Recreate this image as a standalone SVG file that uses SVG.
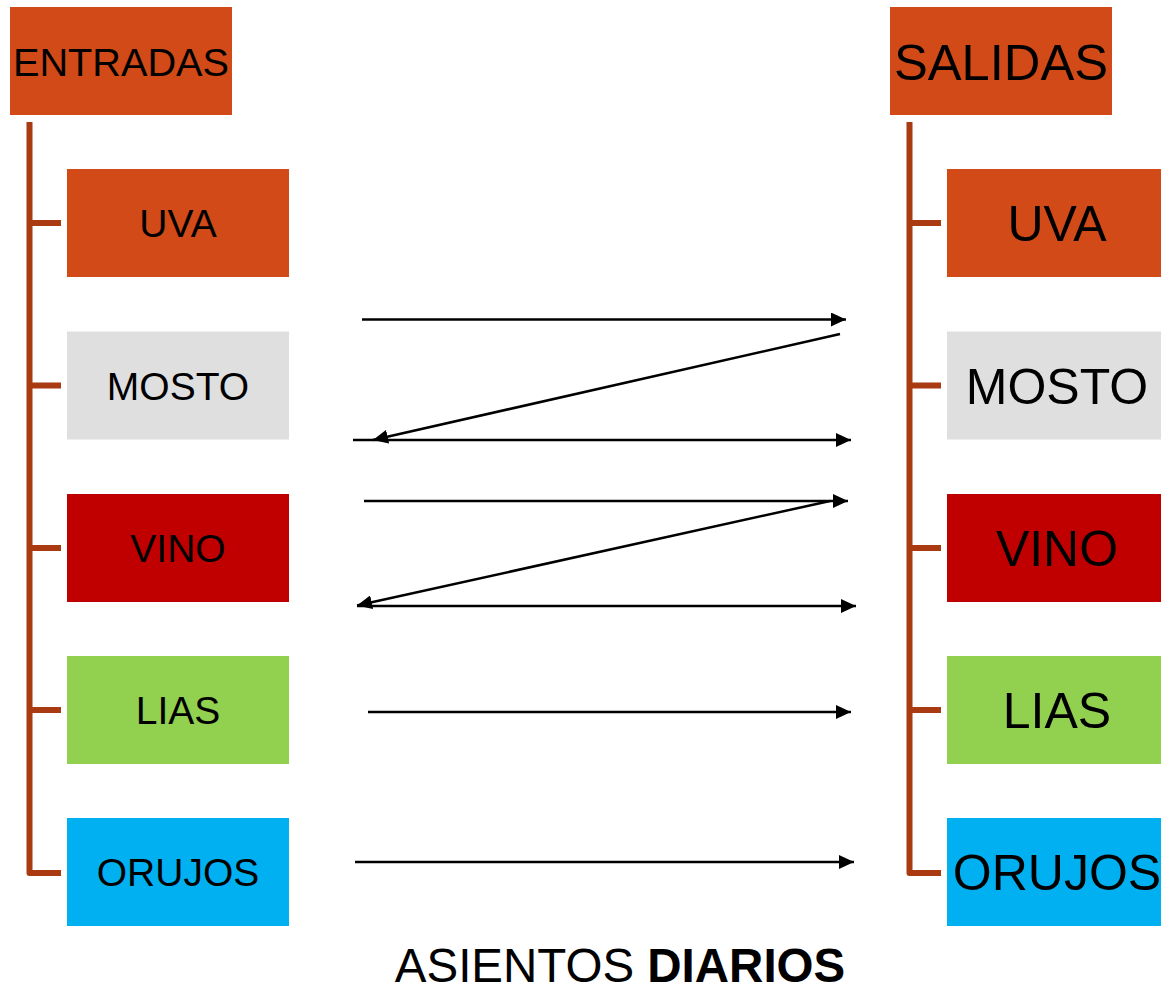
<svg xmlns="http://www.w3.org/2000/svg" width="1161" height="992" viewBox="0 0 1161 992">
<style>
.t{font-family:"Liberation Sans",Arial,sans-serif;fill:#000;text-anchor:middle}
.l{font-size:39px}
.r{font-size:50px}
.tree{fill:none;stroke:#A93A12;stroke-width:6;stroke-linejoin:round}
.arr{stroke:#000;stroke-width:2.5;fill:none;marker-end:url(#ah)}
.orange{fill:#D14A17}
.gray{fill:#DFDFDF}
.red{fill:#C00000}
.green{fill:#92D050}
.blue{fill:#00B0F0}
</style>
<defs>
<marker id="ah" markerUnits="userSpaceOnUse" viewBox="0 0 15 14" refX="15" refY="7" markerWidth="15" markerHeight="14" orient="auto">
<path d="M0,0 L15,7 L0,14 Z" fill="#000"/>
</marker>
</defs>
<rect width="1161" height="992" fill="#fff"/>
<g id="tree-lines">
<path class="tree" d="M29.5,122 V873 H61 M29.5,223 H61 M29.5,385.5 H61 M29.5,548 H61 M29.5,710 H61"/>
<path class="tree" d="M909.5,122 V873 H941 M909.5,223 H941 M909.5,385.5 H941 M909.5,548 H941 M909.5,710 H941"/>
</g>
<g id="entradas"><rect class="orange" x="10" y="7" width="222" height="108"/><text class="t" x="121" y="76" font-size="39.7">ENTRADAS</text></g>
<g id="salidas"><rect class="orange" x="890" y="7" width="222" height="108"/><text class="t" x="1001" y="80" font-size="50.7">SALIDAS</text></g>
<g id="in-uva"><rect class="orange" x="67" y="169" width="222" height="108"/><text class="t l" x="178" y="237">UVA</text></g>
<g id="in-mosto"><rect class="gray" x="67" y="331.5" width="222" height="108"/><text class="t l" x="178" y="399.5">MOSTO</text></g>
<g id="in-vino"><rect class="red" x="67" y="494" width="222" height="108"/><text class="t l" x="178" y="562">VINO</text></g>
<g id="in-lias"><rect class="green" x="67" y="656" width="222" height="108"/><text class="t l" x="178" y="724">LIAS</text></g>
<g id="in-orujos"><rect class="blue" x="67" y="818" width="222" height="108"/><text class="t l" x="178" y="886">ORUJOS</text></g>
<g id="out-uva"><rect class="orange" x="947" y="169" width="214" height="108"/><text class="t r" x="1057" y="241">UVA</text></g>
<g id="out-mosto"><rect class="gray" x="947" y="331.5" width="214" height="108"/><text class="t r" x="1057" y="403.5">MOSTO</text></g>
<g id="out-vino"><rect class="red" x="947" y="494" width="214" height="108"/><text class="t r" x="1057" y="566">VINO</text></g>
<g id="out-lias"><rect class="green" x="947" y="656" width="214" height="108"/><text class="t r" x="1057" y="728">LIAS</text></g>
<g id="out-orujos"><rect class="blue" x="947" y="818" width="214" height="108"/><text class="t r" x="1057" y="890">ORUJOS</text></g>
<g id="connectors">
<line class="arr" x1="362" y1="319.5" x2="846" y2="319.5"/>
<line class="arr" x1="840" y1="334" x2="373" y2="440"/>
<line class="arr" x1="353" y1="440" x2="851" y2="440"/>
<line class="arr" x1="364" y1="501" x2="848" y2="501"/>
<line class="arr" x1="830" y1="501" x2="357" y2="605.5"/>
<line class="arr" x1="357" y1="606" x2="856" y2="606"/>
<line class="arr" x1="368" y1="712" x2="851" y2="712"/>
<line class="arr" x1="355" y1="862" x2="854" y2="862"/>
</g>
<text class="t" x="620" y="982" font-size="47.5">ASIENTOS <tspan font-weight="bold">DIARIOS</tspan></text>
</svg>
